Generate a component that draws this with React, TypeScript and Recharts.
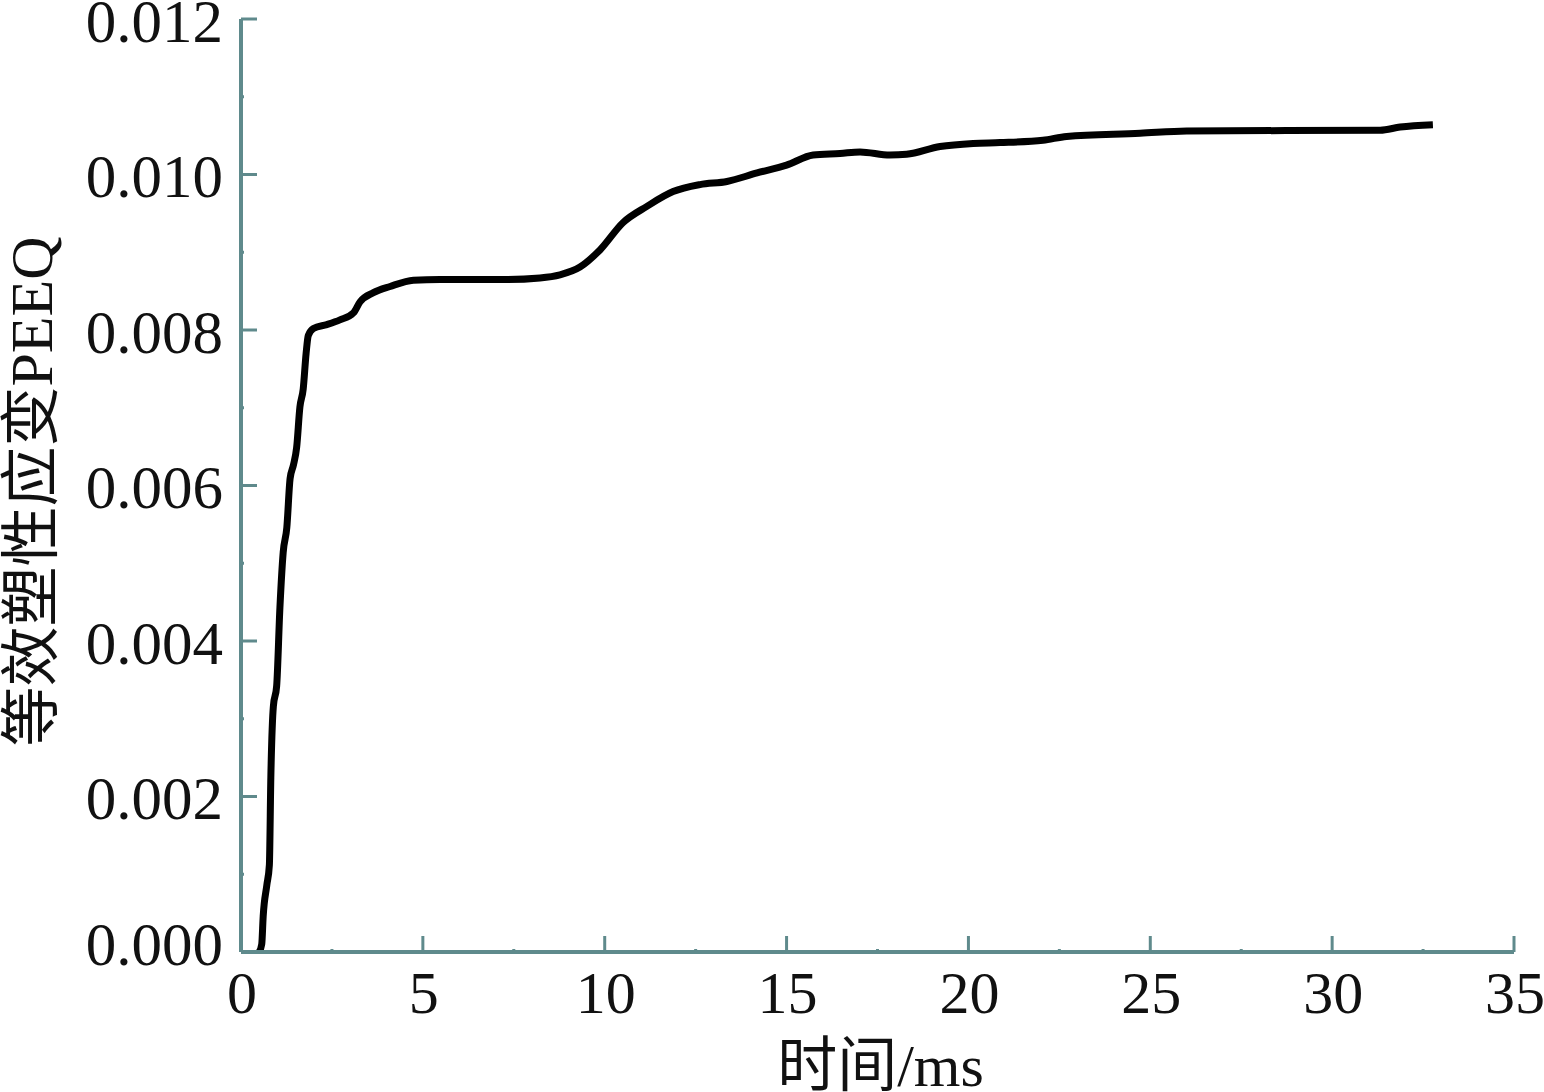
import React from "react";
import { LineChart, Line, XAxis, YAxis } from "recharts";

const timeMs = [
  0.5, 0.57, 0.61, 0.71, 0.78, 0.82, 0.89, 0.98, 1.07, 1.16, 1.26, 1.35, 1.44, 1.53, 1.62, 1.71, 1.79, 1.85,
  1.99, 2.36, 2.72, 3.09, 3.27, 3.64, 4.1, 4.74, 5.47, 7.3, 8.22, 8.77, 9.32, 9.87, 10.5, 11.16, 11.88,
  12.62, 13.36, 14.19, 15.0, 15.73, 16.47, 17.02, 17.84, 18.3, 19.22, 20.13, 20.87, 22.05, 22.7, 24.72,
  26.0, 31.32, 31.87, 32.77,
];
const peeq = [
  0, 0.0001, 0.00046, 0.00086, 0.00112, 0.00224, 0.00316, 0.00342, 0.00443, 0.00514, 0.00546, 0.00609,
  0.00626, 0.00649, 0.00701, 0.00724, 0.0077, 0.00793, 0.00802, 0.00807, 0.00813, 0.00822, 0.00836,
  0.00848, 0.00856, 0.00864, 0.00865, 0.00865, 0.00867, 0.00871, 0.00881, 0.00903, 0.00938, 0.00959,
  0.00978, 0.00987, 0.00991, 0.01002, 0.01012, 0.01025, 0.01027, 0.01029, 0.01025, 0.01026, 0.01036,
  0.0104, 0.01041, 0.01044, 0.01049, 0.01053, 0.01056, 0.01057, 0.01061, 0.01064,
];
const xTicks = [0, 2.5, 5, 7.5, 10, 12.5, 15, 17.5, 20, 22.5, 25, 27.5, 30, 32.5, 35];
const yTicks = [0, 0.001, 0.002, 0.003, 0.004, 0.005, 0.006, 0.007, 0.008, 0.009, 0.01, 0.011, 0.012];
const xTitle = "时间/ms";
const yTitle = "等效塑性应变PEEQ";

const data = timeMs.map((t, i) => ({ t, v: peeq[i] }));

const AXIS = "#5f8a8c";
const FONT = "'Liberation Serif', 'Times New Roman', 'Noto Sans CJK SC', serif";

const XTick = (props: any) => {
  const { x, y, payload } = props;
  const major = Math.abs(payload.value % 5) < 1e-9;
  return (
    <g>
      <line x1={x} x2={x} y1={y} y2={y - (major ? 16 : 3)} stroke={AXIS} strokeWidth={3} />
      {major && (
        <text x={x + 1} y={y + 41} textAnchor="middle" dominantBaseline="central" fontSize={60} fontFamily={FONT} fill="#111">
          {payload.value}
        </text>
      )}
    </g>
  );
};

const YTick = (props: any) => {
  const { x, y, payload } = props;
  const idx = Math.round(payload.value * 1000);
  const major = idx % 2 === 0;
  const dy = idx === 0 ? -8 : 2;
  return (
    <g>
      <line x1={x} x2={x + (major ? 16 : 3)} y1={y} y2={y} stroke={AXIS} strokeWidth={3} />
      {major && (
        <text x={x - 18} y={y + dy} textAnchor="end" dominantBaseline="central" fontSize={61} fontFamily={FONT} fill="#111">
          {payload.value.toFixed(3)}
        </text>
      )}
    </g>
  );
};

const YLabel = (props: any) => {
  const vb = props.viewBox || { x: 0, y: 19, width: 241, height: 933 };
  const cx = vb.x + 32;
  const cy = vb.y + vb.height / 2 + 6;
  return (
    <text
      x={cx}
      y={cy}
      transform={`rotate(-90, ${cx}, ${cy})`}
      textAnchor="middle"
      dominantBaseline="central"
      fontSize={60}
      fontFamily={FONT}
      fill="#111"
    >
      {yTitle}
    </text>
  );
};

const XLabel = (props: any) => {
  const vb = props.viewBox || { x: 241, y: 952, width: 1273, height: 140 };
  const cx = vb.x + vb.width / 2 + 3;
  const cy = vb.y + 114;
  return (
    <text x={cx} y={cy} textAnchor="middle" dominantBaseline="central" fontSize={60} fontFamily={FONT} fill="#111">
      {xTitle}
    </text>
  );
};

export default function App() {
  return (
    <div style={{ position: "absolute", left: 0, top: 0, width: 1544, height: 1092, background: "#fff" }}>
      <LineChart width={1544} height={1092} data={data} margin={{ top: 19, right: 30, bottom: 0, left: 0 }}>
        <XAxis
          dataKey="t"
          type="number"
          domain={[0, 35]}
          ticks={xTicks}
          interval={0}
          tickSize={0}
          tickMargin={0}
          tickLine={false}
          tick={<XTick />}
          height={140}
          axisLine={{ stroke: AXIS, strokeWidth: 4 }}
          label={<XLabel />}
        />
        <YAxis
          type="number"
          domain={[0, 0.012]}
          ticks={yTicks}
          interval={0}
          tickSize={0}
          tickMargin={0}
          tickLine={false}
          tick={<YTick />}
          width={241}
          axisLine={{ stroke: AXIS, strokeWidth: 4 }}
          label={<YLabel />}
        />
        <Line
          dataKey="v"
          type="monotone"
          stroke="#000"
          strokeWidth={7}
          dot={false}
          isAnimationActive={false}
        />
      </LineChart>
    </div>
  );
}
